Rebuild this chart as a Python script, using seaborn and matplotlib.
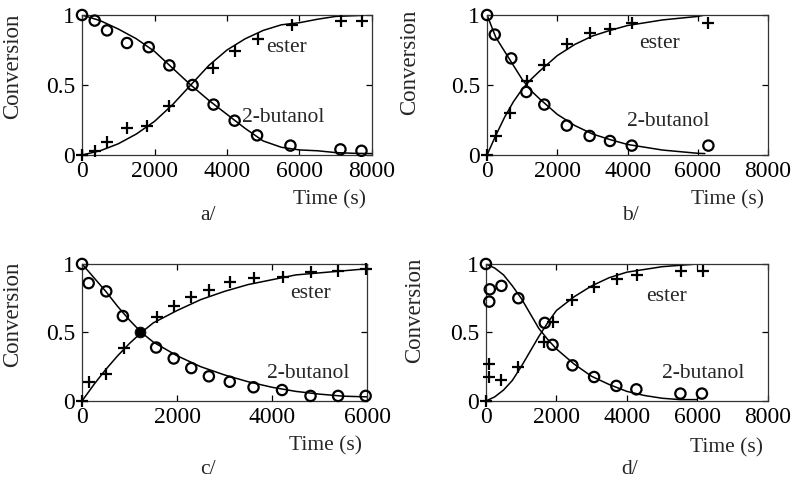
import matplotlib
matplotlib.use("Agg")
import matplotlib.pyplot as plt
import seaborn as sns
import pandas as pd

sns.set_theme(style="ticks")
plt.rcParams["font.family"] = ["Liberation Serif", "DejaVu Serif"]

# ---------------- data ----------------
# panel a
a_pts_t = [0, 350, 690, 1240, 1840, 2410, 3050, 3630, 4210, 4830, 5750, 7130, 7710]
a_but = [1.0, 0.96, 0.89, 0.80, 0.77, 0.64, 0.50, 0.36, 0.245, 0.14, 0.067, 0.04, 0.03]
a_est_t = [0, 370, 690, 1240, 1790, 2390, 3600, 4230, 4850, 5780, 7140, 7720]
a_est = [0.0, 0.03, 0.09, 0.19, 0.21, 0.35, 0.62, 0.745, 0.83, 0.93, 0.96, 0.96]
a_fit_t = [0, 500, 1000, 1500, 2000, 2500, 3000, 3500, 4000, 4500, 5000, 5500, 6000, 6500, 7000, 7500, 8000]
a_fit_but = [1.0, 0.96, 0.90, 0.83, 0.74, 0.62, 0.50, 0.39, 0.29, 0.19, 0.10, 0.055, 0.036, 0.03, 0.017, 0.012, 0.01]
a_fit_est = [0.0, 0.03, 0.08, 0.15, 0.24, 0.36, 0.50, 0.64, 0.75, 0.83, 0.89, 0.93, 0.945, 0.97, 0.99, 0.995, 1.0]

# panel b
b_but_t = [0, 220, 690, 1120, 1630, 2270, 2920, 3500, 4120, 6300]
b_but = [1.0, 0.86, 0.69, 0.45, 0.36, 0.21, 0.136, 0.10, 0.067, 0.067]
b_est_t = [0, 265, 660, 1140, 1630, 2270, 2920, 3500, 4140, 6280]
b_est = [0.0, 0.136, 0.30, 0.53, 0.64, 0.79, 0.87, 0.90, 0.945, 0.945]
b_fit_t = [0, 250, 500, 750, 1000, 1250, 1500, 2000, 2500, 3000, 3500, 4000, 5000, 6000, 6200]
b_fit_but = [1.0, 0.84, 0.74, 0.64, 0.54, 0.46, 0.40, 0.29, 0.21, 0.15, 0.11, 0.075, 0.035, 0.012, 0.01]
b_fit_est = [0.0, 0.14, 0.27, 0.38, 0.47, 0.54, 0.60, 0.71, 0.79, 0.85, 0.89, 0.925, 0.965, 0.99, 1.0]

# panel c
c_but_t = [0, 140, 510, 860, 1560, 1930, 2300, 2670, 3110, 3610, 4210, 4810, 5390, 5970]
c_but = [1.0, 0.86, 0.80, 0.62, 0.39, 0.31, 0.24, 0.18, 0.14, 0.10, 0.08, 0.037, 0.037, 0.037]
c_est_t = [0, 140, 510, 880, 1570, 1930, 2300, 2670, 3120, 3610, 4220, 4810, 5390, 5970]
c_est = [0.0, 0.14, 0.20, 0.39, 0.61, 0.69, 0.76, 0.81, 0.87, 0.90, 0.905, 0.94, 0.95, 0.96]
c_cross_t = [1230]
c_cross = [0.50]
c_fit_t = [0, 250, 500, 750, 1000, 1250, 1500, 2000, 2500, 3000, 3500, 4000, 4500, 5000, 5500, 6000]
c_fit_but = [1.0, 0.90, 0.80, 0.69, 0.59, 0.50, 0.43, 0.33, 0.25, 0.19, 0.14, 0.10, 0.07, 0.05, 0.035, 0.03]
c_fit_est = [0.0, 0.12, 0.23, 0.33, 0.42, 0.50, 0.57, 0.66, 0.74, 0.80, 0.85, 0.885, 0.92, 0.935, 0.95, 0.965]

# panel d
d_but_t = [0, 110, 95, 440, 920, 1670, 1890, 2455, 3070, 3700, 4270, 5520, 6130]
d_but = [1.0, 0.815, 0.725, 0.84, 0.75, 0.57, 0.41, 0.26, 0.175, 0.11, 0.085, 0.054, 0.054]
d_est_t = [0, 95, 95, 415, 920, 1650, 1890, 2455, 3070, 3720, 4290, 5540, 6160]
d_est = [0.0, 0.27, 0.176, 0.15, 0.25, 0.43, 0.58, 0.74, 0.83, 0.89, 0.92, 0.945, 0.945]
d_fit_t = [0, 250, 500, 750, 1000, 1250, 1500, 1750, 2000, 2500, 3000, 3500, 4000, 4500, 5000, 5500, 6000]
d_fit_but = [1.0, 0.97, 0.92, 0.84, 0.75, 0.64, 0.53, 0.45, 0.38, 0.27, 0.18, 0.12, 0.07, 0.04, 0.02, 0.01, 0.01]
d_fit_est = [0.0, 0.03, 0.08, 0.15, 0.25, 0.36, 0.47, 0.57, 0.66, 0.76, 0.84, 0.90, 0.94, 0.96, 0.98, 0.99, 1.0]

panels = [
    dict(name="a/", fit_t=a_fit_t, fit_but=a_fit_but, fit_est=a_fit_est,
         but_t=a_pts_t, but=a_but, est_t=a_est_t, est=a_est, xmax=8000,
         ester_xy=(5650, 0.77), but_xy=(5560, 0.27), pos=[0.1033, 0.685, 0.3652, 0.2845],
         cap_x=0.434, cap_y=-0.43, time_y=-0.32, ylab=(-0.203, 0.63)),
    dict(name="b/", fit_t=b_fit_t, fit_but=b_fit_but, fit_est=b_fit_est,
         but_t=b_but_t, but=b_but, est_t=b_est_t, est=b_est, xmax=8000,
         ester_xy=(4920, 0.80), but_xy=(5160, 0.24), pos=[0.6134, 0.685, 0.354, 0.2845],
         cap_x=0.51, cap_y=-0.43, time_y=-0.32, ylab=(-0.238, 0.66)),
    dict(name="c/", fit_t=c_fit_t, fit_but=c_fit_but, fit_est=c_fit_est,
         but_t=c_but_t, but=c_but, est_t=c_est_t, est=c_est, xmax=6000,
         ester_xy=(4810, 0.785), but_xy=(4770, 0.20), pos=[0.1033, 0.185, 0.359, 0.2785],
         cap_x=0.44, cap_y=-0.50, time_y=-0.33, ylab=(-0.207, 0.635)),
    dict(name="d/", fit_t=d_fit_t, fit_but=d_fit_but, fit_est=d_fit_est,
         but_t=d_but_t, but=d_but, est_t=d_est_t, est=d_est, xmax=8000,
         ester_xy=(5120, 0.76), but_xy=(6160, 0.20), pos=[0.612, 0.185, 0.355, 0.2785],
         cap_x=0.51, cap_y=-0.50, time_y=-0.34, ylab=(-0.216, 0.66)),
]

FS_TICK = 17
FS_YLAB = 16.5
FS = 15.5
fig = plt.figure(figsize=(7.94, 4.92), dpi=100)
fig.patch.set_facecolor("white")

for p in panels:
    ax = fig.add_axes(p["pos"])
    ax.set_facecolor("white")
    fit = pd.DataFrame({"t": p["fit_t"], "but": p["fit_but"], "est": p["fit_est"]})
    sns.lineplot(data=fit, x="t", y="but", ax=ax, color="black", lw=1.1, sort=False)
    sns.lineplot(data=fit, x="t", y="est", ax=ax, color="black", lw=1.1, sort=False)
    pb = pd.DataFrame({"t": p["but_t"], "v": p["but"]})
    pe = pd.DataFrame({"t": p["est_t"], "v": p["est"]})
    sns.scatterplot(data=pb, x="t", y="v", ax=ax, marker="o", s=55,
                    facecolors="none", edgecolor="black", linewidth=1.6,
                    zorder=4, clip_on=False)
    sns.scatterplot(data=pe, x="t", y="v", ax=ax, marker="+", s=70,
                    color="black", linewidth=1.6, zorder=4, clip_on=False)
    if p["name"] == "c/":
        pc = pd.DataFrame({"t": c_cross_t, "v": c_cross})
        sns.scatterplot(data=pc, x="t", y="v", ax=ax, marker="o", s=60,
                        color="black", edgecolor="black", zorder=5)
    ax.set_xlim(0, p["xmax"])
    ax.set_ylim(0, 1)
    ax.set_xticks(list(range(0, p["xmax"] + 1, 2000)))
    ax.set_yticks([0, 0.5, 1])
    ax.set_yticklabels(["0", "0.5", "1"])
    ax.tick_params(direction="in", length=4, width=0.9, top=True, right=True,
                   labelsize=FS_TICK, colors="black")
    ax.tick_params(axis="x", pad=4)
    ax.tick_params(axis="y", pad=5)
    for s in ax.spines.values():
        s.set_linewidth(0.9)
        s.set_color("#333333")
    ax.set_xlabel("")
    ax.set_ylabel("Conversion", fontsize=FS_YLAB)
    ax.yaxis.set_label_coords(*p["ylab"])
    ax.text(p["ester_xy"][0], p["ester_xy"][1], "ester", fontsize=FS,
            ha="center", va="center")
    ax.text(p["but_xy"][0], p["but_xy"][1], "2-butanol", fontsize=FS,
            ha="center", va="center")
    ax.text(0.855, p["time_y"], "Time (s)",
            transform=ax.transAxes, fontsize=FS, ha="center", va="center")
    ax.text(p["cap_x"], p["cap_y"], p["name"], transform=ax.transAxes,
            fontsize=FS, ha="center", va="center")

fig.savefig("out.png", dpi=100, facecolor="white")
